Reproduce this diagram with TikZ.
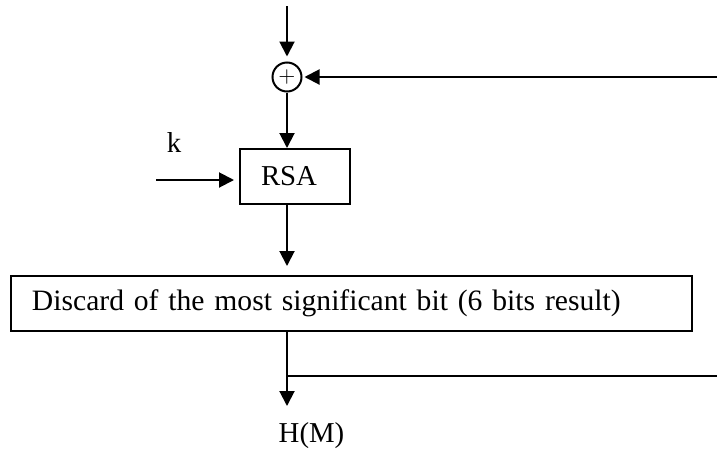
\documentclass[tikz,border=0pt]{standalone}
\usepackage{fontspec}
\setmainfont{Liberation Serif}
\usetikzlibrary{arrows.meta,positioning,calc}

\begin{document}
\begin{tikzpicture}[
  x=0.5pt, y=-0.5pt,
  font=\fontsize{14.4}{17}\selectfont,
  blk/.style={draw, line width=1pt, inner xsep=10.5pt, inner ysep=0pt,
    align=left, minimum height=27.5pt},
  arr/.style={-{Triangle[length=7.5pt,width=7.5pt]}, line width=1pt},
  wire/.style={line width=1pt},
  xorc/.style={circle, draw, line width=1pt, minimum size=14.5pt,
    inner sep=0pt, font=\fontsize{10.5}{10.5}\selectfont},
]
\useasboundingbox (0,0) rectangle (717,450);
% adder and feedback input
\node[xorc] (xor) at (287,77) {$+$};
\coordinate (src) at (287,6);
\coordinate (fbin) at (717,77);
\draw[arr, shorten >=2.5pt] (src) -- (xor);
\draw[arr, shorten >=1pt] (fbin) -- (xor);
% RSA with key
\node[blk, text width=34pt] (rsa) at (295,176.5) {RSA};
\node[anchor=base] (klbl) at (174,152) {k};
\coordinate (kin) at (156,180);
\draw[arr] (xor) -- (xor |- rsa.north);
\draw[arr, shorten >=2.5pt] (kin) -- (kin -| rsa.west);
% truncation
\node[blk, text width=319.5pt, font=\fontsize{14.8}{17}\selectfont]
  (dsc) at (351.5,303.5)
  {Discard of the most significant bit (6 bits result)};
\draw[arr, shorten >=4.5pt] (xor |- rsa.south) -- (xor |- dsc.north);
% output and feedback
\node[anchor=base] (hm) at (311.5,442) {H(M)};
\coordinate (tip) at (287,406);
\coordinate (fbout) at (717,376);
\draw[arr] (xor |- dsc.south) -- (tip);
\draw[wire] (xor |- fbout) -- (fbout);
\end{tikzpicture}
\end{document}
